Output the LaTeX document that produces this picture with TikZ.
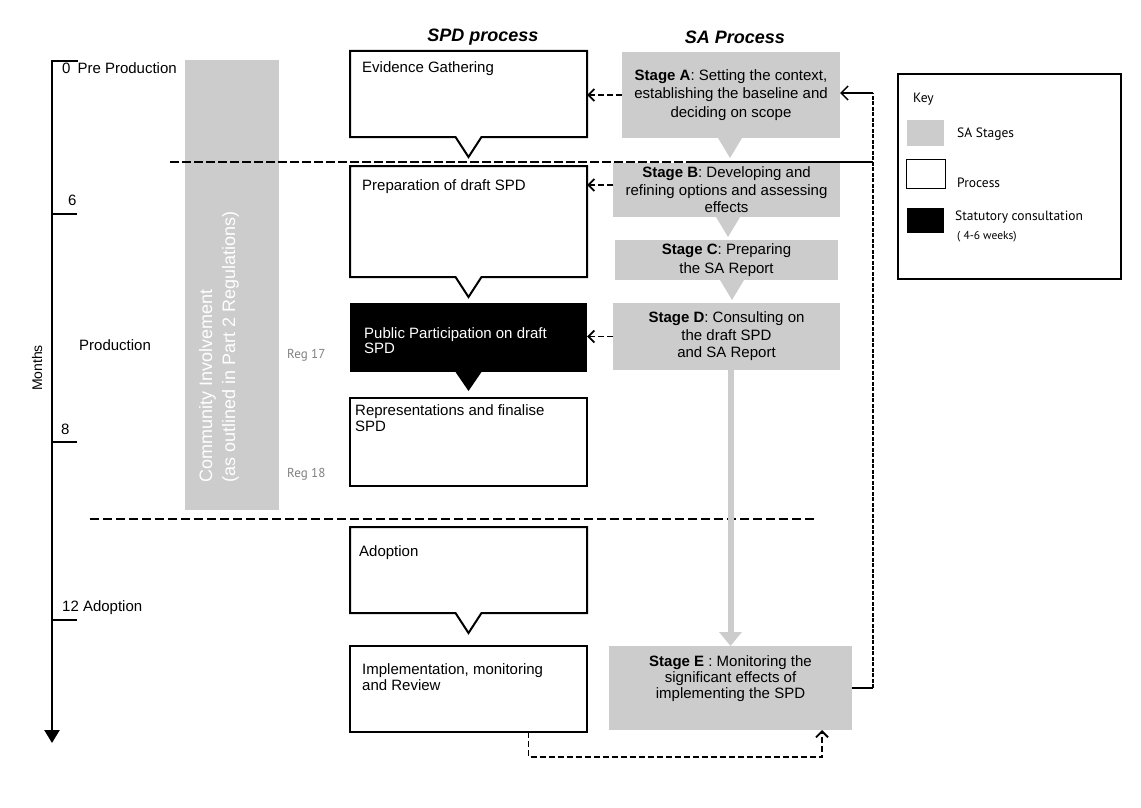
\documentclass[tikz,border=0pt]{standalone}
\usepackage{fontspec}
\setmainfont{Liberation Sans}
\newfontfamily\keyfont{PT Sans}
\usetikzlibrary{arrows.meta,calc}
\definecolor{sagray}{gray}{0.8}
\definecolor{reggray}{gray}{0.5}

\begin{document}
\begin{tikzpicture}[x=1pt,y=-1pt,
    spdbox/.style={inner sep=0pt,outer sep=0pt,minimum width=237pt},
    sabox/.style={fill=sagray,inner sep=0pt,outer sep=0pt,align=center,font=\fontsize{15}{18.5}\selectfont},
    spdtxt/.style={anchor=north west,inner sep=0pt,align=left,font=\fontsize{15}{15.5}\selectfont},
    lbl/.style={anchor=west,inner sep=0pt,font=\fontsize{15}{18}\selectfont},
    head/.style={font=\fontsize{18}{20}\selectfont\bfseries\itshape},
    link/.style={line width=1.8pt,dash pattern=on 6pt off 3pt,-{Straight Barb[length=6pt,width=12pt]}},
    swatch/.style={minimum width=37pt,minimum height=26pt,inner sep=0pt},
    keytxt/.style={anchor=west,inner sep=0pt,font=\keyfont\fontsize{13.5}{15}\selectfont},
    reg/.style={anchor=west,inner sep=0pt,text=reggray,font=\keyfont\fontsize{13}{15}\selectfont}]
    \useasboundingbox (0,0) rectangle (1141,808);
    % time line
    \draw[line width=2.5pt,-{Triangle[length=13pt,width=15pt]}] (78,61) -- (52,61) -- (52,743);
    \foreach \y in {214,442,620}
      \draw[line width=2.5pt] (52,\y) -- (77,\y);
    \node[lbl] at (62,68) {0\hspace{7pt}Pre Production};
    \node[lbl] at (68,200) {6};
    \node[lbl] at (61,429) {8};
    \node[lbl] at (62,608) {12 Adoption};
    \node[lbl] at (79,345) {Production};
    \node[rotate=90,inner sep=0pt,font=\fontsize{14}{16}\selectfont] at (37,368) {Months};
    % community involvement
    \node (ci) [fill=sagray,minimum width=94pt,minimum height=450pt,inner sep=0pt] at (232,285) {};
    \node[rotate=90,anchor=west,align=left,text=white,inner sep=0pt,font=\fontsize{18}{23}\selectfont] at (219,483) {Community Involvement\\(as outlined in Part 2 Regulations)};
    \node (r17) [reg] at (287,355) {Reg 17};
    \node (r18) [reg] at (287,474) {Reg 18};
    % stage dividers
    \draw[line width=1.8pt,dash pattern=on 9pt off 3pt] (170,162) -- (690,162);
    \draw[line width=1.8pt] (690,162) -- (873,162);
    \draw[line width=1.8pt,dash pattern=on 9pt off 4pt] (90,519) -- (815,519);
    % headings
    \node (spdh) [head] at (483,37) {SPD process};
    \node (sah) [head] at (735,37) {SA Process};
    % SPD process
    \node (evid) [spdbox,minimum height=86pt] at (468.5,94) {};
    \node (prep) [spdbox,minimum height=111pt] at (468.5,221.5) {};
    \node (pub) [spdbox,minimum height=69pt,fill=black] at (468.5,337.5) {};
    \node (rep) [spdbox,minimum height=88pt,draw,line width=2pt] at (468.5,442) {};
    \node (adopt) [spdbox,minimum height=86pt] at (468.5,570) {};
    \node (impl) [spdbox,minimum height=86pt,draw,line width=1.3pt] at (468.5,689) {};
    \foreach \n in {evid,prep,adopt}
      \draw[line width=2pt] (\n.north west) -- (\n.north east) -- (\n.south east)
        -- ([shift={(13,0)}]\n.south) -- ([shift={(0,20)}]\n.south) -- ([shift={(-13,0)}]\n.south)
        -- (\n.south west) -- cycle;
    \fill ([shift={(-13,0)}]pub.south) -- ([shift={(0,19)}]pub.south) -- ([shift={(13,0)}]pub.south) -- cycle;
    \node[spdtxt] at ([shift={(12,10)}]evid.north west) {Evidence Gathering};
    \node[spdtxt] at ([shift={(12,13)}]prep.north west) {Preparation of draft SPD};
    \node[spdtxt,text=white] at ([shift={(14,24)}]pub.north west) {Public Participation on draft\\SPD};
    \node[spdtxt] at ([shift={(5,6.5)}]rep.north west) {Representations and finalise\\SPD};
    \node[spdtxt] at ([shift={(9,18.5)}]adopt.north west) {Adoption};
    \node[spdtxt] at ([shift={(12,17.5)}]impl.north west) {Implementation, monitoring\\and Review};
    % SA process
    \node (a) [sabox,minimum width=218pt,minimum height=86pt] at (731,95) {\textbf{Stage A}: Setting the context,\\establishing the baseline and\\deciding on scope};
    \node (b) [sabox,minimum width=227pt,minimum height=54pt,font=\fontsize{15}{17.5}\selectfont] at (726.5,190) {\textbf{Stage B}: Developing and\\refining options and assessing\\effects};
    \node (c) [sabox,minimum width=223pt,minimum height=40pt] at (726.5,260) {\textbf{Stage C}: Preparing\\the SA Report};
    \node (d) [sabox,minimum width=227pt,minimum height=67pt,font=\fontsize{15}{17.5}\selectfont] at (726.5,336.5) {\textbf{Stage D}: Consulting on\\the draft SPD\\and SA Report};
    \node (e) [sabox,minimum width=243pt,minimum height=84pt] at (730.5,688) {};
    \node[align=center,inner sep=0pt,font=\fontsize{15}{16}\selectfont] at ($(e)+(0,-9)$) {\textbf{Stage E} : Monitoring the\\significant effects of\\implementing the SPD};
    \foreach \n/\dx in {a/-1,b/1.5,c/5.5}
      \fill[sagray] ([shift={(\dx-12,0)}]\n.south) -- ([shift={(\dx,20)}]\n.south) -- ([shift={(\dx+12,0)}]\n.south) -- cycle;
    \draw[sagray,line width=6pt,-{Triangle[length=14pt,width=22pt]}] (d.south -| e.north) -- (e.north);
    % SA feeds SPD
    \coordinate (bw) at ([shift={(0,-5)}]b.west);
    \draw[link] (a.west) -- (a.west -| evid.east);
    \draw[link] (bw) -- (bw -| prep.east);
    \draw[link] (d.west) -- (d.west -| pub.east);
    % monitoring feedback
    \coordinate (rb) at (873,688);
    \coordinate (rt) at (873,93);
    \draw[line width=1.8pt] (e.east) -- (rb);
    \draw[line width=1.8pt,dash pattern=on 4pt off 1.5pt] (rb) -- (rt);
    \draw[line width=1.5pt,-{Straight Barb[length=7pt,width=14pt]}] (rt) -- (rt -| a.east);
    \draw[link] ([shift={(-58.5,0)}]impl.south east) -- ++(0,25) -| ([shift={(-30,0)}]e.south east);
    % key
    \node (key) [draw,line width=1.5pt,minimum width=223pt,minimum height=205pt,inner sep=0pt] at (1009.5,176.5) {};
    \node[keytxt] at (913,99) {Key};
    \node (ksa) [swatch,fill=sagray] at (925.5,133) {};
    \node (kpr) [swatch,draw,line width=1pt,minimum width=39pt,minimum height=29pt] at (926,173.5) {};
    \node (kst) [swatch,fill=black,minimum height=25pt] at (925.5,220.5) {};
    \node[keytxt] at (957,134) {SA Stages};
    \node[keytxt] at (957,183) {Process};
    \node[keytxt] at (955,217) {Statutory consultation};
    \node[keytxt,font=\keyfont\fontsize{11.5}{13}\selectfont] at (957,237) {( 4-6 weeks)};
  \end{tikzpicture}
\end{document}
